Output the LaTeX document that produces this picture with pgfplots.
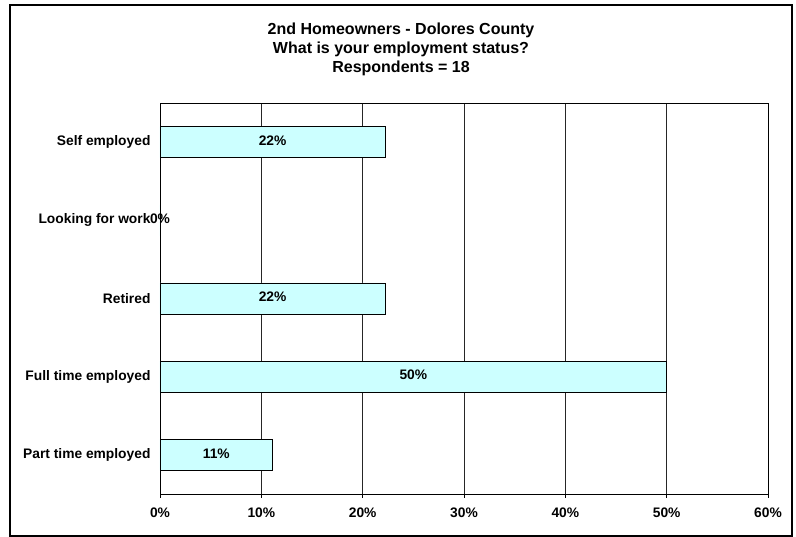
\documentclass[border=0pt]{standalone}
\usepackage{pgfplots}
\pgfplotsset{compat=1.18}
\usepackage{fontspec}
\setmainfont{Liberation Sans}
\definecolor{barfill}{HTML}{CCFFFF}
\begin{document}
\begin{tikzpicture}[x=1pt,y=1pt]
\useasboundingbox (-160,-43) rectangle (636,494);
\draw[line width=1.2pt] (-150,-42) rectangle (632,489);
\node[align=center,font=\fontsize{16}{19}\selectfont\bfseries] at (241,445)
  {2nd Homeowners - Dolores County\\What is your employment status?\\Respondents = 18};
\begin{axis}[
  at={(0pt,0pt)}, anchor=south west,
  scale only axis, width=608pt, height=391pt,
  xbar, bar width=31pt,
  xmin=0, xmax=60, ymin=-0.5, ymax=4.5,
  xtick={0,10,...,60},
  xticklabels={0\%,10\%,20\%,30\%,40\%,50\%,60\%},
  ytick={0,1,2,3,4},
  yticklabels={Part time employed,Full time employed,Retired,Looking for work,Self employed},
  minor ytick={-0.5,0.5,...,4.5},
  tick align=outside,
  major tick length=4pt, minor tick length=4pt,
  ytick style={draw=none},
  minor tick style={black, line width=0.8pt},
  xtick style={black, line width=0.8pt},
  xtick pos=bottom, ytick pos=left,
  xmajorgrids, grid style={black!85, line width=0.7pt},
  axis line style={black, line width=0.9pt},
  tick label style={font=\fontsize{13.8}{16}\selectfont\bfseries},
  xticklabel style={yshift=-6pt},
  yticklabel style={xshift=-2pt},
  /pgf/number format/assume math mode=true,
  visualization depends on=rawx \as \rawx,
  nodes near coords={\pgfmathprintnumber[fixed,precision=0]{\pgfplotspointmeta}\%},
  nodes near coords style={anchor=center, xshift=-\rawx*5.0667pt, yshift=1.5pt,
    font=\fontsize{13.8}{16}\selectfont\bfseries, text=black},
]
\addplot[draw=black, fill=barfill, line width=0.9pt] coordinates {
  (11.11,0) (50,1) (22.22,2) (0,3) (22.22,4)
};
\end{axis}
\end{tikzpicture}
\end{document}
